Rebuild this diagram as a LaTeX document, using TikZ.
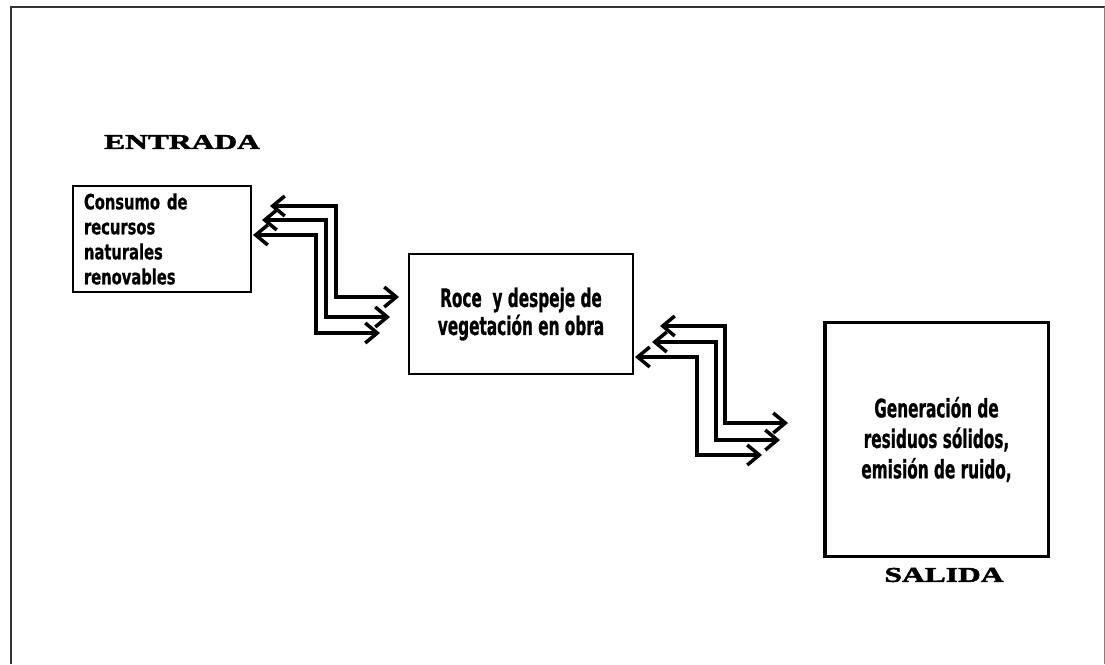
\documentclass[tikz,border=0pt]{standalone}
\usepackage{fontspec}
\usetikzlibrary{arrows.meta}
\newfontfamily\agA[FakeStretch=0.6,FakeBold=0.8]{DejaVu Sans}
\newfontfamily\agB[FakeStretch=0.7,FakeBold=0.8]{DejaVu Sans}
\newfontfamily\heavyserif[FakeStretch=1.5,FakeBold=2.5]{Liberation Serif}
\begin{document}
\begin{tikzpicture}[x=1pt,y=-1pt,
  box/.style={draw=black, line width=2pt, inner sep=0pt, anchor=north west},
  biarrow/.style={line width=3.5pt, {Straight Barb[length=12pt,width=20pt]}-{Straight Barb[length=12pt,width=20pt]}},
  title/.style={font=\heavyserif\bfseries\fontsize{21}{21}\selectfont}]
\useasboundingbox (0,0) rectangle (1105,664);
% frame
\draw[line width=2.5pt, black!80] (11,664) -- (11,7) -- (1105,7);
\draw[line width=1pt, gray] (1104,7) -- (1104,664);
% labels
\node[title] (entrada) at (182,142) {ENTRADA};
\node[title] (salida) at (944,575) {SALIDA};
% boxes
\node[box, minimum width=178pt, minimum height=106pt, text width=160pt, align=left,
  font=\agB\bfseries\fontsize{21}{25}\selectfont] (b1) at (72,185)
  {\hspace*{2pt}Consumo de\\\hspace*{2pt}recursos\\\hspace*{2pt}naturales\\\hspace*{2pt}renovables};
\node[box, minimum width=224pt, minimum height=120pt, align=center,
  font=\agA\bfseries\fontsize{25.5}{28}\selectfont] (b2) at (408,253)
  {Roce\ \ y despeje de\\vegetación en obra};
\node[box, line width=3pt, minimum width=224pt, minimum height=234pt, align=center,
  font=\agA\bfseries\fontsize{25.5}{30.5}\selectfont] (b3) at (823,321)
  {Generación de\\residuos sólidos,\\emisión de ruido,};
\draw[line width=2pt] ([xshift=3pt]b3.north west) -- ([xshift=3pt]b3.south west);
% arrow group 1
\coordinate (p1a) at (270,206); \coordinate (v1a) at (336,297); \coordinate (q1a) at (399,297);
\coordinate (p1b) at (262,220); \coordinate (v1b) at (326,317); \coordinate (q1b) at (390,317);
\coordinate (p1c) at (253,235); \coordinate (v1c) at (316,333); \coordinate (q1c) at (380,333);
\draw[biarrow] (p1a) -| (v1a) -- (q1a);
\draw[biarrow] (p1b) -| (v1b) -- (q1b);
\draw[biarrow] (p1c) -| (v1c) -- (q1c);
% arrow group 2
\coordinate (p2a) at (660,326); \coordinate (v2a) at (725,423); \coordinate (q2a) at (788,423);
\coordinate (p2b) at (652,342); \coordinate (v2b) at (716,440); \coordinate (q2b) at (780,440);
\coordinate (p2c) at (635,357); \coordinate (v2c) at (697,455); \coordinate (q2c) at (762,455);
\draw[biarrow] (p2a) -| (v2a) -- (q2a);
\draw[biarrow] (p2b) -| (v2b) -- (q2b);
\draw[biarrow] (p2c) -| (v2c) -- (q2c);
\end{tikzpicture}
\end{document}
